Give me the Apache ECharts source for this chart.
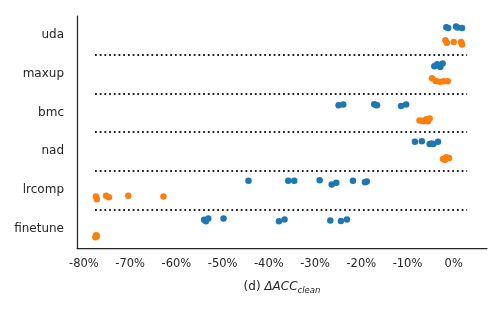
<!DOCTYPE html>
<html>
<head>
<meta charset="utf-8">
<script src="https://cdn.jsdelivr.net/npm/echarts@6/dist/echarts.min.js"></script>
<style>html,body{margin:0;padding:0;background:#fff;}#c{width:500px;height:309px;}</style>
</head>
<body>
<div id="c"></div>
<script>
const categories = ['uda', 'maxup', 'bmc', 'nad', 'lrcomp', 'finetune'];

// blue series: x values (% change) per category
const blueValues = [
  [-1.6, -1.2, 0.5, 0.8, 1.8],
  [-4.2, -3.6, -3.0, -2.4, -2.9],
  [-24.9, -23.9, -17.2, -16.8, -16.6, -11.4, -10.3],
  [-8.4, -6.9, -5.2, -4.4, -3.4, -4.8],
  [-44.4, -35.8, -34.5, -29.0, -26.4, -25.4, -21.8, -19.2, -18.8],
  [-54.0, -53.6, -53.1, -49.8, -37.8, -36.6, -26.7, -24.4, -23.1]
];
// blue series: vertical jitter (category units)
const blueJitter = [
  [-0.21, -0.19, -0.23, -0.20, -0.19],
  [-0.20, -0.25, -0.22, -0.27, -0.18],
  [-0.19, -0.21, -0.22, -0.20, -0.19, -0.17, -0.21],
  [-0.25, -0.26, -0.19, -0.19, -0.25, -0.20],
  [-0.24, -0.24, -0.24, -0.25, -0.14, -0.19, -0.24, -0.20, -0.22],
  [-0.23, -0.19, -0.26, -0.26, -0.19, -0.24, -0.21, -0.20, -0.24]
];
// orange series
const orangeValues = [
  [-1.8, -1.5, 0.0, 1.6, 1.8],
  [-4.7, -3.9, -3.0, -2.2, -1.3],
  [-7.4, -6.8, -6.5, -5.9, -5.6, -5.2],
  [-2.3, -1.9, -1.6, -1.0],
  [-77.4, -77.2, -75.2, -74.6, -70.4, -62.8],
  [-77.5, -77.4, -77.3, -77.2]
];
const orangeJitter = [
  [0.13, 0.19, 0.17, 0.17, 0.24],
  [0.11, 0.18, 0.20, 0.19, 0.19],
  [0.20, 0.21, 0.22, 0.17, 0.22, 0.15],
  [0.20, 0.22, 0.15, 0.17],
  [0.17, 0.24, 0.15, 0.19, 0.15, 0.17],
  [0.22, 0.17, 0.20, 0.18]
];
const xTicks = [-80, -70, -60, -50, -40, -30, -20, -10, 0];
const separatorRange = [-77.6, 2.9];

function toPoints(vals, jit) {
  const out = [];
  vals.forEach((arr, ci) => arr.forEach((v, i) => out.push([v, ci + jit[ci][i]])));
  return out;
}
const sepData = [];
for (let i = 0; i < categories.length - 1; i++) {
  sepData.push([{coord: [separatorRange[0], i + 0.5]}, {coord: [separatorRange[1], i + 0.5]}]);
}

const chart = echarts.init(document.getElementById('c'), null, {renderer: 'canvas'});
const txt = '#262626';
chart.setOption({
  animation: false,
  backgroundColor: '#fff',
  grid: {left: 77, right: 13, top: 16, bottom: 61},
  xAxis: {
    type: 'value', min: -81.5, max: 7.2, minInterval: 10, maxInterval: 10,
    axisLine: {show: true, onZero: false, lineStyle: {color: txt, width: 1.25}},
    axisTick: {show: false}, splitLine: {show: false},
    axisLabel: {
      color: txt, fontFamily: 'DejaVu Sans', fontSize: 11.5, margin: 10,
      showMinLabel: false, showMaxLabel: false,
      formatter: v => xTicks.indexOf(Math.round(v * 1000) / 1000) >= 0 ? (v + '%') : ''
    },
    name: '{n|(d) }{i|ΔACC}{s|clean}',
    nameLocation: 'middle', nameGap: 31,
    nameTextStyle: {
      rich: {
        n: {fontFamily: 'DejaVu Sans', fontSize: 12, color: txt, lineHeight: 16},
        i: {fontFamily: 'DejaVu Sans', fontStyle: 'italic', fontSize: 12, color: txt, lineHeight: 16},
        s: {fontFamily: 'DejaVu Sans', fontStyle: 'italic', fontSize: 8.5, color: txt, lineHeight: 16, verticalAlign: 'bottom', padding: [8, 0, 0, 0]}
      }
    }
  },
  yAxis: [{
    type: 'category', data: categories, inverse: true,
    axisLine: {show: true, onZero: false, lineStyle: {color: txt, width: 1.25}},
    axisTick: {show: false}, splitLine: {show: false},
    axisLabel: {color: txt, fontFamily: 'DejaVu Sans', fontSize: 12, margin: 13}
  }, {
    type: 'value', min: -0.5, max: 5.5, inverse: true, show: false,
    axisLine: {onZero: false}
  }],
  series: [{
    type: 'scatter', yAxisIndex: 1, symbolSize: 6.5,
    itemStyle: {color: '#1f77b4', opacity: 1},
    data: toPoints(blueValues, blueJitter),
    markLine: {
      silent: true, symbol: 'none', label: {show: false},
      lineStyle: {color: '#222', width: 1.8, type: [1.8, 2.9]},
      data: sepData
    },
    z: 3
  }, {
    type: 'scatter', yAxisIndex: 1, symbolSize: 6.5,
    itemStyle: {color: '#ff7f0e', opacity: 1},
    data: toPoints(orangeValues, orangeJitter),
    z: 3
  }]
});
</script>
</body>
</html>
